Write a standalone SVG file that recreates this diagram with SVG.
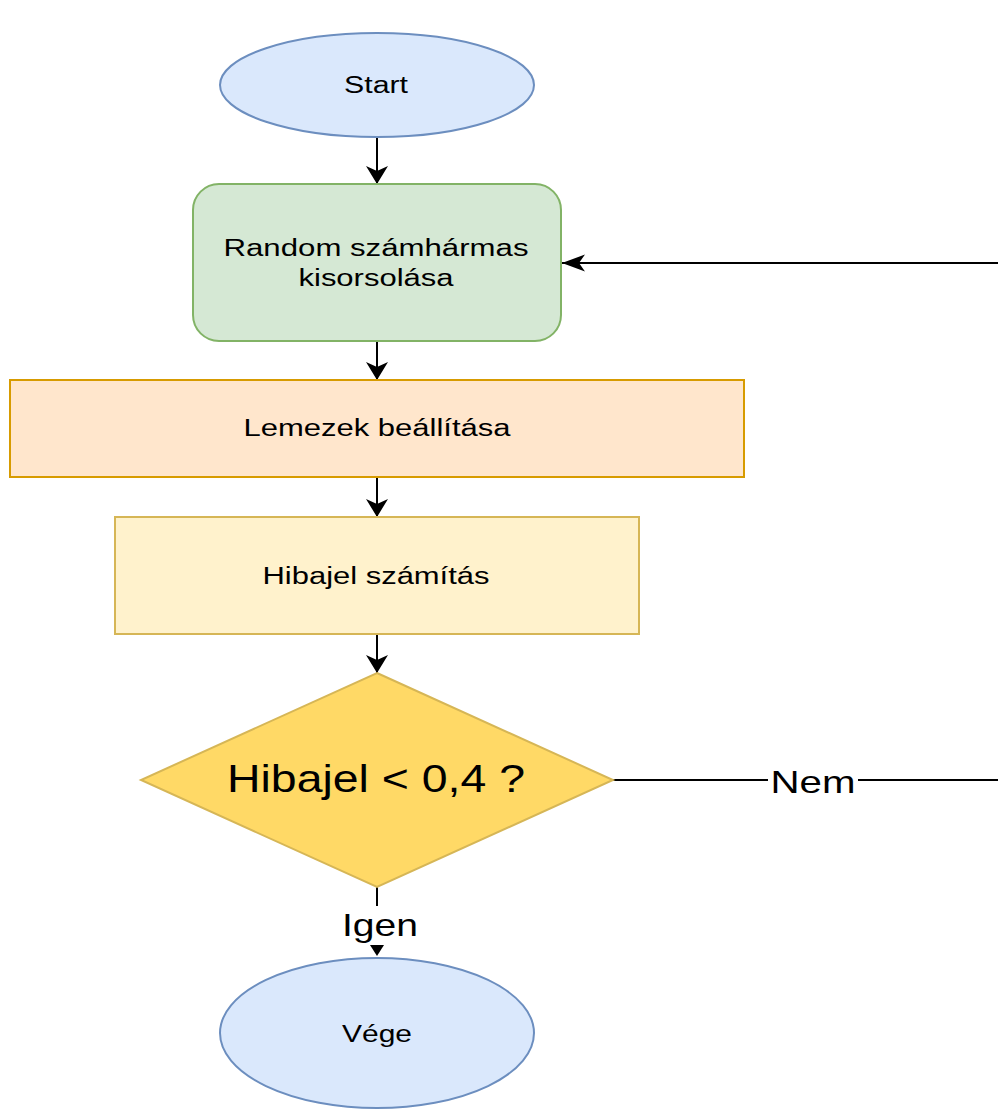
<svg xmlns="http://www.w3.org/2000/svg" width="998" height="1111" viewBox="0 0 998 1111">
<defs>
<style>
.t{font-family:"Liberation Sans",Arial,sans-serif;fill:#000;text-anchor:middle}
.n{font-size:23px}
.c{stroke:#000;stroke-width:2;fill:none}
</style>
<marker id="aV" markerUnits="userSpaceOnUse" orient="auto" markerWidth="20" markerHeight="24" refX="18" refY="11" viewBox="0 0 20 24">
<path d="M0,0 L18,11 L0,22 L5,11 Z" fill="#000"/>
</marker>
<marker id="aH" markerUnits="userSpaceOnUse" orient="auto" markerWidth="25" markerHeight="19" refX="23" refY="8.5" viewBox="0 0 25 19">
<path d="M0,0 L23,8.5 L0,17 L6,8.5 Z" fill="#000"/>
</marker>
</defs>
<rect width="998" height="1111" fill="#fff"/>
<g id="connectors">
<line class="c" x1="377" y1="137" x2="377" y2="184" marker-end="url(#aV)"/>
<line class="c" x1="377" y1="341" x2="377" y2="380" marker-end="url(#aV)"/>
<line class="c" x1="377" y1="477" x2="377" y2="517" marker-end="url(#aV)"/>
<line class="c" x1="377" y1="634" x2="377" y2="673" marker-end="url(#aV)"/>
<line class="c" x1="998" y1="263" x2="562" y2="263" marker-end="url(#aH)"/>
<line class="c" x1="613" y1="780" x2="998" y2="780"/>
<rect x="768" y="765" width="90" height="34" fill="#fff"/>
<text class="t" x="813" y="793" font-size="32" textLength="85" lengthAdjust="spacingAndGlyphs">Nem</text>
<line class="c" x1="377" y1="887" x2="377" y2="946"/>
<rect x="338" y="906" width="84" height="39" fill="#fff"/>
<text class="t" x="380" y="936" font-size="32" textLength="76" lengthAdjust="spacingAndGlyphs">Igen</text>
<path d="M370,945 L384,945 L377,956 Z" fill="#000"/>
</g>
<g id="start">
<ellipse cx="377" cy="85" rx="157" ry="52" fill="#dae8fc" stroke="#6c8ebf" stroke-width="2"/>
<text class="t n" x="376" y="93" textLength="64" lengthAdjust="spacingAndGlyphs">Start</text>
</g>
<g id="random">
<rect x="193" y="184" width="368" height="157" rx="26" fill="#d5e8d4" stroke="#82b366" stroke-width="2"/>
<text class="t n" x="376" y="256" textLength="305" lengthAdjust="spacingAndGlyphs">Random számhármas</text>
<text class="t n" x="376" y="286" textLength="155" lengthAdjust="spacingAndGlyphs">kisorsolása</text>
</g>
<g id="lemezek">
<rect x="10" y="380" width="734" height="97" fill="#ffe6cc" stroke="#d79b00" stroke-width="2"/>
<text class="t n" x="377" y="436" textLength="267" lengthAdjust="spacingAndGlyphs">Lemezek beállítása</text>
</g>
<g id="hibajel">
<rect x="115" y="517" width="524" height="117" fill="#fff2cc" stroke="#d6b656" stroke-width="2"/>
<text class="t n" x="376" y="584" textLength="227" lengthAdjust="spacingAndGlyphs">Hibajel számítás</text>
</g>
<g id="decision">
<polygon points="377,673 613,780 377,887 141,780" fill="#ffd966" stroke="#d6b656" stroke-width="2"/>
<text class="t" x="376" y="792" font-size="39" textLength="298" lengthAdjust="spacingAndGlyphs">Hibajel &lt; 0,4 ?</text>
</g>
<g id="vege">
<ellipse cx="377" cy="1033" rx="157" ry="75" fill="#dae8fc" stroke="#6c8ebf" stroke-width="2"/>
<text class="t n" x="377" y="1042" textLength="70" lengthAdjust="spacingAndGlyphs">Vége</text>
</g>
</svg>
